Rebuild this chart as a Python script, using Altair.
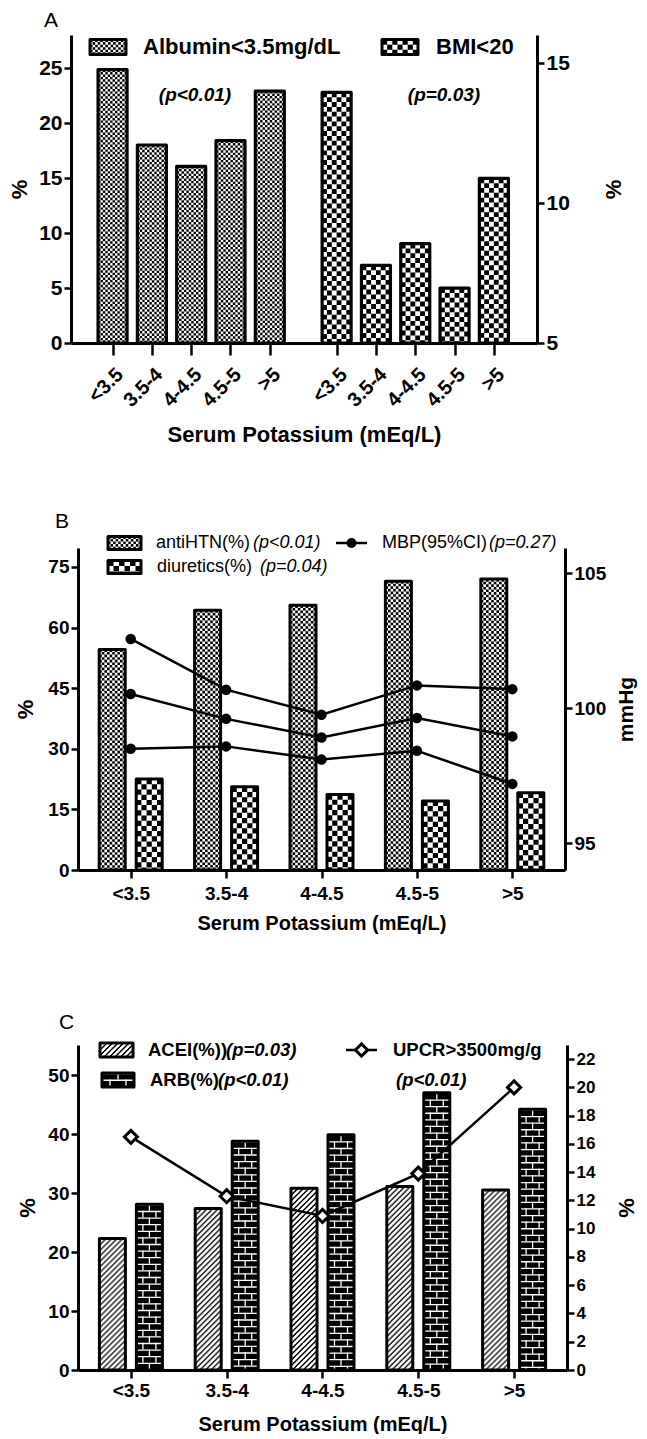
import json
import altair as alt
import pandas as pd

FONT = "Liberation Sans"

# ---------------- data ----------------
CATS = ["<3.5", "3.5-4", "4-4.5", "4.5-5", ">5"]

# Panel A
ALBUMIN = [24.85, 18.0, 16.05, 18.4, 22.9]      # % (left axis)
BMI = [13.95, 7.77, 8.55, 6.96, 10.88]          # % (right axis)
A_LEFT_TICKS = [0, 5, 10, 15, 20, 25]
A_RIGHT_TICKS = [5, 10, 15]

# Panel B
ANTIHTN = [54.6, 64.3, 65.5, 71.5, 72.0]
DIURETICS = [22.5, 20.6, 18.7, 17.1, 19.1]
MBP_UPPER = [102.56, 100.68, 99.75, 100.84, 100.70]
MBP_MEAN = [100.52, 99.60, 98.91, 99.63, 98.95]
MBP_LOWER = [98.49, 98.58, 98.09, 98.42, 97.19]
B_LEFT_TICKS = [0, 15, 30, 45, 60, 75]
B_RIGHT_TICKS = [95, 100, 105]

# Panel C
ACEI = [22.3, 27.4, 30.8, 31.1, 30.5]
ARB = [28.1, 38.8, 39.9, 47.0, 44.2]
UPCR = [16.5, 12.3, 10.9, 13.9, 20.0]
C_LEFT_TICKS = [0, 10, 20, 30, 40, 50]
C_RIGHT_TICKS = [0, 2, 4, 6, 8, 10, 12, 14, 16, 18, 20, 22]

IDX = list(range(len(CATS)))
GAP = 5.7
IDX_A2 = [i + GAP for i in IDX]
XTITLE = "Serum Potassium (mEq/L)"


# ---------------- pattern helpers ----------------
def rules_for(pattern, width):
    out = []
    if pattern in ("fine", "coarse"):
        target = 2.5 if pattern == "fine" else 5.2
        n = max(1, round(width / target))
        c = width / n
        for k in range(n):
            out.append(dict(color="black", sw=c, dash=[c, c], off=(c if k % 2 else 0.0),
                            dx=-width / 2 + c * (k + 0.5)))
    elif pattern == "hatch":
        P, on, cw = 5.5, 2.0, 1.0
        n = int(round(width / cw))
        for k in range(n):
            out.append(dict(color="black", sw=cw, dash=[on, P - on], off=(k * cw) % P,
                            dx=-width / 2 + cw * (k + 0.5)))
    elif pattern == "brick":
        P, lw = 6.6, 1.3
        out.append(dict(color="white", sw=width, dash=[lw, P - lw], off=0.0, dx=0.0))
        out.append(dict(color="white", sw=lw, dash=[P, P], off=0.0, dx=0.0))
        out.append(dict(color="white", sw=lw, dash=[P, P], off=P, dx=-width / 4))
        out.append(dict(color="white", sw=lw, dash=[P, P], off=P, dx=width / 4))
    return out


def bar_layers(df, x, y, y2, width, xoff, pattern, sw=3.2):
    base = alt.Chart(df)
    fill = "black" if pattern == "brick" else "white"
    layers = [base.mark_bar(size=width, xOffset=xoff, fill=fill, strokeWidth=0)
              .encode(x=x, y=y, y2=y2)]
    for r in rules_for(pattern, width):
        layers.append(base.mark_rule(color=r["color"], strokeWidth=r["sw"], strokeDash=r["dash"],
                                     strokeDashOffset=r["off"], strokeCap="butt",
                                     xOffset=xoff + r["dx"])
                      .encode(x=x, y=y, y2=y2))
    layers.append(base.mark_bar(size=width, xOffset=xoff, fill="white", fillOpacity=0,
                                stroke="black", strokeWidth=sw, strokeJoin="round")
                  .encode(x=x, y=y, y2=y2))
    return layers


ONE = pd.DataFrame({"k": [0]})


def swatch(cx, cy, w, h, pattern, sw=3.0):
    base = alt.Chart(ONE)
    y = alt.value(cy - h / 2)
    y2 = alt.value(cy + h / 2)
    fill = "black" if pattern == "brick" else "white"
    layers = [base.mark_rect(fill=fill, strokeWidth=0)
              .encode(x=alt.value(cx - w / 2), x2=alt.value(cx + w / 2), y=y, y2=y2)]
    for r in rules_for(pattern, w):
        layers.append(base.mark_rule(color=r["color"], strokeWidth=r["sw"], strokeDash=r["dash"],
                                     strokeDashOffset=r["off"], strokeCap="butt", xOffset=r["dx"])
                      .encode(x=alt.value(cx), y=y, y2=y2))
    layers.append(base.mark_rect(fill="white", fillOpacity=0, stroke="black", strokeWidth=sw,
                                 strokeJoin="round")
                  .encode(x=alt.value(cx - w / 2), x2=alt.value(cx + w / 2), y=y, y2=y2))
    return layers


def label(x, y, text, size, weight="bold", style="normal"):
    return alt.Chart(ONE).mark_text(text=text, align="left", baseline="middle", font=FONT,
                                    fontSize=size, fontWeight=weight, fontStyle=style,
                                    color="black").encode(x=alt.value(x), y=alt.value(y))


def ctext(x, y, text, size, weight="bold", style="normal"):
    return alt.Chart(ONE).mark_text(text=text, align="center", baseline="middle", font=FONT,
                                    fontSize=size, fontWeight=weight, fontStyle=style,
                                    color="black").encode(x=alt.value(x), y=alt.value(y))


AXIS_STYLE = dict(labelFont=FONT, titleFont=FONT, labelFontWeight="bold", titleFontWeight="bold",
                  domainWidth=3, domainColor="black", tickColor="black", tickWidth=2.5,
                  labelColor="black", titleColor="black", grid=False, labelOverlap=False,
                  labelFlush=False)


def yaxis(values, title, orient, lsize, tsize, offset=0, title_pad=6, tick=7, label_pad=2):
    return alt.Axis(values=values, title=title, orient=orient, labelFontSize=lsize,
                    titleFontSize=tsize, offset=offset, titlePadding=title_pad, tickSize=tick,
                    labelPadding=label_pad, titleAngle=270, **AXIS_STYLE)


# ---------------- Panel A ----------------
A_W, A_H = 466, 308
xA_scale = alt.Scale(domain=[-0.93, 10.67], nice=False, zero=False)
labelA = f"{json.dumps(CATS)}[datum.value < 5 ? round(datum.value) : round(datum.value - {GAP})]"
xA_axis = alt.Axis(values=IDX + IDX_A2, labelExpr=labelA, title=XTITLE, labelAngle=315,
                   labelAlign="right", labelBaseline="top", labelFontSize=20, labelPadding=9,
                   tickSize=12, titleFontSize=22, titlePadding=14, **AXIS_STYLE)
xA = alt.X("pos:Q", scale=xA_scale, axis=xA_axis)

yA1 = alt.Y("val:Q", scale=alt.Scale(domain=[0, 28.0], nice=False, zero=False),
            axis=yaxis(A_LEFT_TICKS, "%", "left", 21, 22, title_pad=7))
yA2 = alt.Y("val:Q", scale=alt.Scale(domain=[5, 16.0], nice=False, zero=False),
            axis=yaxis(A_RIGHT_TICKS, "%", "right", 21, 22, title_pad=56))

dA1 = pd.DataFrame({"pos": IDX, "val": ALBUMIN, "base": 0.0})
dA2 = pd.DataFrame({"pos": IDX_A2, "val": BMI, "base": 5.0})

A_left = alt.layer(
    *bar_layers(dA1, xA, yA1, alt.Y2("base:Q"), 29, 0, "fine"),
    *swatch(37, 12, 36, 15, "fine"),
    label(72, 12, "Albumin<3.5mg/dL", 22),
    *swatch(329, 12, 36, 15, "coarse"),
    label(365, 12, "BMI<20", 22),
    ctext(124, 60, "(p<0.01)", 19, "bold", "italic"),
    ctext(373, 60, "(p=0.03)", 19, "bold", "italic"),
)
A_right = alt.layer(
    *bar_layers(dA2, xA, yA2, alt.Y2("base:Q"), 29, 0, "coarse"),
)
panelA = alt.layer(A_left, A_right).resolve_scale(y="independent").properties(
    width=A_W, height=A_H,
    title=alt.TitleParams("A", anchor="start", frame="group", dx=-27, fontSize=21,
                          fontWeight="normal", font=FONT, offset=4, color="black"))

# ---------------- Panel B ----------------
B_W, B_H = 494, 322
labelBC = f"{json.dumps(CATS)}[round(datum.value)]"


def xaxis_plain(values, lsize, tsize, tick=8, label_pad=4, title_pad=6):
    return alt.Axis(values=values, labelExpr=labelBC, title=XTITLE, labelAngle=0,
                    labelFontSize=lsize, labelPadding=label_pad, tickSize=tick,
                    titleFontSize=tsize, titlePadding=title_pad, **AXIS_STYLE)


xB = alt.X("pos:Q", scale=alt.Scale(domain=[-0.5, 4.5], range=[7, 494], nice=False, zero=False),
           axis=xaxis_plain(IDX, 19, 20, label_pad=6, title_pad=10))
yB1 = alt.Y("val:Q", scale=alt.Scale(domain=[0, 79.7], nice=False, zero=False),
            axis=yaxis(B_LEFT_TICKS, "%", "left", 19, 22, offset=-7, title_pad=10))
yB2 = alt.Y("mbp:Q", scale=alt.Scale(domain=[94.0, 105.93], nice=False, zero=False),
            axis=yaxis(B_RIGHT_TICKS, "mmHg", "right", 19, 21, title_pad=31))

dB1 = pd.DataFrame({"pos": IDX, "val": ANTIHTN, "base": 0.0})
dB2 = pd.DataFrame({"pos": IDX, "val": DIURETICS, "base": 0.0})
dB3 = pd.DataFrame({
    "pos": IDX * 3,
    "mbp": MBP_UPPER + MBP_MEAN + MBP_LOWER,
    "stat": ["upper"] * 5 + ["mean"] * 5 + ["lower"] * 5,
})

B_left = alt.layer(
    *bar_layers(dB1, xB, yB1, alt.Y2("base:Q"), 26, -18.5, "fine", sw=3),
    *bar_layers(dB2, xB, yB1, alt.Y2("base:Q"), 26, 18.5, "coarse", sw=3),
    *swatch(53.5, -5, 33, 13, "fine"),
    label(85, -5, "antiHTN(%)", 18, "normal"),
    label(182, -5, "(p<0.01)", 18, "normal", "italic"),
    *swatch(53.5, 19, 33, 13, "coarse"),
    label(86, 19, "diuretics(%)", 18, "normal"),
    label(189, 19, "(p=0.04)", 18, "normal", "italic"),
    alt.Chart(ONE).mark_rule(color="black", strokeWidth=2.5).encode(
        x=alt.value(265), x2=alt.value(296), y=alt.value(-5)),
    alt.Chart(ONE).mark_circle(color="black", size=100, opacity=1).encode(
        x=alt.value(280.5), y=alt.value(-5)),
    label(311, -5, "MBP(95%CI)", 18, "normal"),
    label(418, -5, "(p=0.27)", 18, "normal", "italic"),
)
B_right = alt.layer(
    alt.Chart(dB3).mark_line(color="black", strokeWidth=2.5).encode(
        x=xB, y=yB2, detail="stat:N"),
    alt.Chart(dB3).mark_circle(color="black", size=110, opacity=1).encode(
        x=xB, y=yB2, detail="stat:N"),
)
panelB = alt.layer(B_left, B_right).resolve_scale(y="independent").properties(
    width=B_W, height=B_H,
    title=alt.TitleParams("B", anchor="start", frame="group", dx=-16, fontSize=21,
                          fontWeight="normal", font=FONT, offset=2, color="black"))

# ---------------- Panel C ----------------
C_W, C_H = 496, 325
xC = alt.X("pos:Q", scale=alt.Scale(domain=[-0.5, 4.5], range=[7, 496], nice=False, zero=False),
           axis=xaxis_plain(IDX, 19, 20, label_pad=3, title_pad=14))
yC1 = alt.Y("val:Q", scale=alt.Scale(domain=[0, 55.1], nice=False, zero=False),
            axis=yaxis(C_LEFT_TICKS, "%", "left", 19, 22, offset=-7, title_pad=8))
yC2 = alt.Y("upcr:Q", scale=alt.Scale(domain=[0, 23.0], nice=False, zero=False),
            axis=yaxis(C_RIGHT_TICKS, "%", "right", 17, 22, title_pad=44))

dC1 = pd.DataFrame({"pos": IDX, "val": ACEI, "base": 0.0})
dC2 = pd.DataFrame({"pos": IDX, "val": ARB, "base": 0.0})
dC3 = pd.DataFrame({"pos": IDX, "upcr": UPCR})

C_left = alt.layer(
    *bar_layers(dC1, xC, yC1, alt.Y2("base:Q"), 26, -18.5, "hatch", sw=3),
    *bar_layers(dC2, xC, yC1, alt.Y2("base:Q"), 26, 18.5, "brick", sw=3),
    *swatch(45.5, 5, 33, 14, "hatch"),
    label(77, 5, "ACEI(%))", 18.5),
    label(155, 5, "(p=0.03)", 18.5, "bold", "italic"),
    *swatch(47, 35, 32, 14, "brick"),
    label(79, 35, "ARB(%)", 18.5),
    label(147, 35, "(p<0.01)", 18.5, "bold", "italic"),
    alt.Chart(ONE).mark_rule(color="black", strokeWidth=2.5).encode(
        x=alt.value(275), x2=alt.value(306), y=alt.value(5)),
    alt.Chart(ONE).mark_point(shape="diamond", filled=True, fill="white", stroke="black",
                              strokeWidth=3, size=150, opacity=1).encode(
        x=alt.value(290.5), y=alt.value(5)),
    label(322, 5, "UPCR>3500mg/g", 18.5),
    label(325, 35, "(p<0.01)", 18.5, "bold", "italic"),
)
C_right = alt.layer(
    alt.Chart(dC3).mark_line(color="black", strokeWidth=2.5).encode(x=xC, y=yC2),
    alt.Chart(dC3).mark_point(shape="diamond", filled=True, fill="white", stroke="black",
                              strokeWidth=3, size=170, opacity=1).encode(x=xC, y=yC2),
)
panelC = alt.layer(C_left, C_right).resolve_scale(y="independent").properties(
    width=C_W, height=C_H,
    title=alt.TitleParams(["", "C"], anchor="start", frame="group", dx=-12, fontSize=21,
                          lineHeight=13, fontWeight="normal", font=FONT, offset=5,
                          color="black"))

chart = (
    alt.vconcat(panelA, panelB, panelC, spacing=65)
    .properties(padding={"top": 2, "left": 0, "right": 0, "bottom": 0}, background="white")
    .configure_view(stroke=None)
)

chart.save("out.html", embed_options={"renderer": "svg", "actions": False})
